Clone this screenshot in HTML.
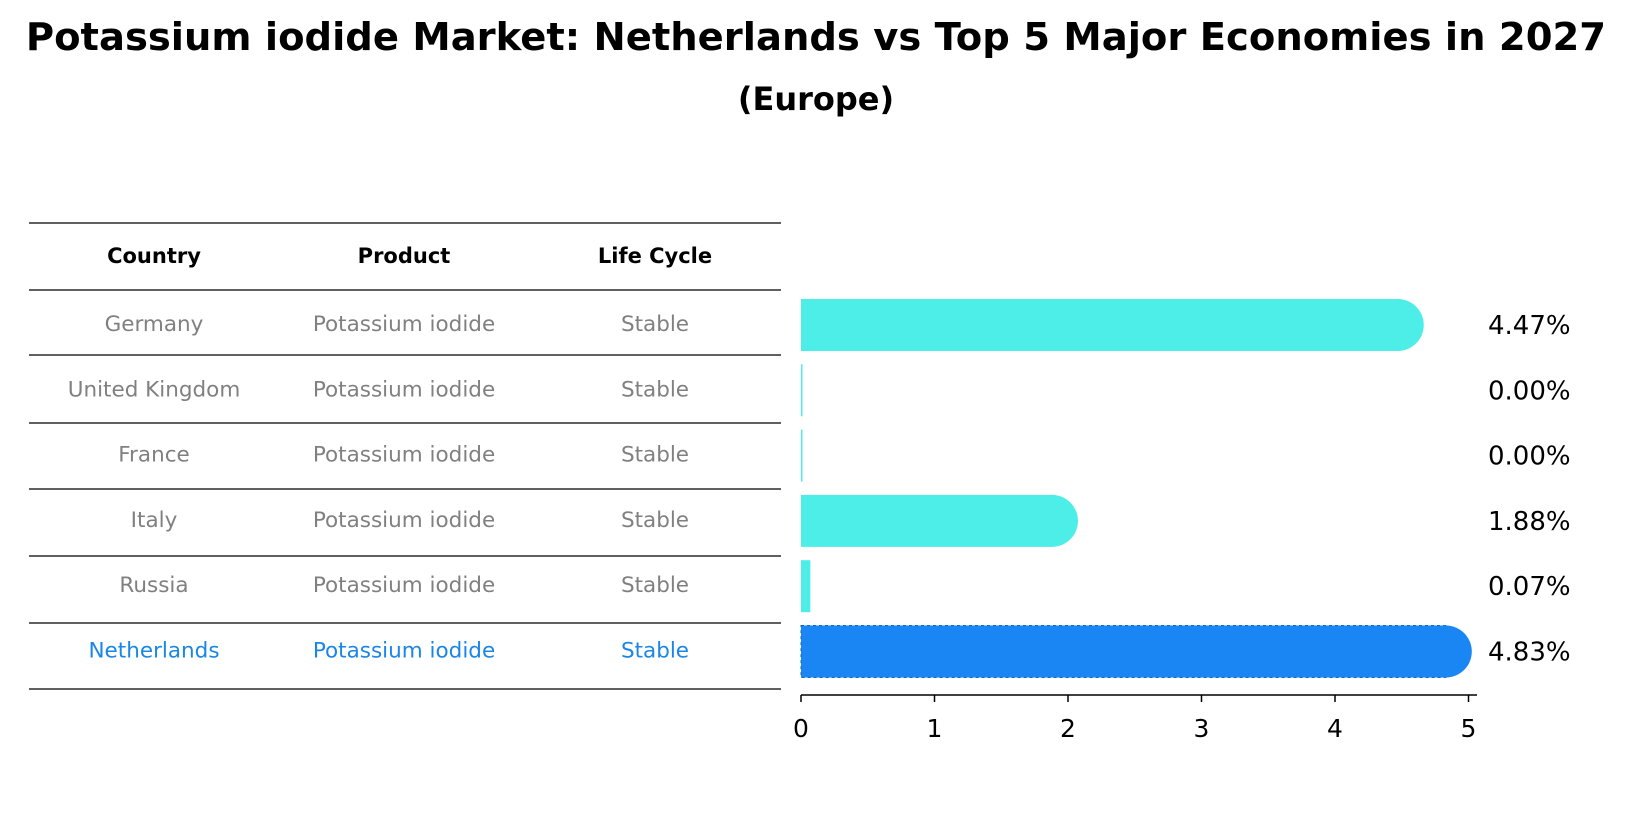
<!DOCTYPE html>
<html><head><meta charset="utf-8"><style>
body{margin:0;background:#fff;font-family:"Liberation Sans","DejaVu Sans",sans-serif}
svg text{font-family:"DejaVu Sans","Liberation Sans",sans-serif}
</style></head><body>
<svg width="1633" height="823" xmlns="http://www.w3.org/2000/svg" id="chart">
<text x="816" y="50" text-anchor="middle" font-size="38.5" font-weight="bold">Potassium iodide Market: Netherlands vs Top 5 Major Economies in 2027</text>
<text x="816" y="110" text-anchor="middle" font-size="32" font-weight="bold">(Europe)</text>
<g id="table"></g>
<g id="bars"></g>
</svg>
<script>
const countries=["Germany","United Kingdom","France","Italy","Russia","Netherlands"];
const products=["Potassium iodide","Potassium iodide","Potassium iodide","Potassium iodide","Potassium iodide","Potassium iodide"];
const lifecycle=["Stable","Stable","Stable","Stable","Stable","Stable"];
const values=[4.47,0.00,0.00,1.88,0.07,4.83];
const ticks=[0,1,2,3,4,5];
const NS="http://www.w3.org/2000/svg";
const x0=801,x5=1468.5;
const xs=v=>x0+(x5-x0)*v/5;
const rowY=i=>325+i*65.3;
const barH=52;
function mk(tag,attrs,parent){const e=document.createElementNS(NS,tag);for(const k in attrs)e.setAttribute(k,attrs[k]);parent.appendChild(e);return e;}
const tbl=document.getElementById('table');
const lines=[223,290,355,423,489,556,623,689];
lines.forEach(y=>{const l=mk('line',{x1:29,x2:781,y1:y,y2:y,stroke:'#000','stroke-width':1.2},tbl);

});
const cx=[154,404,655];
["Country","Product","Life Cycle"].forEach((h,j)=>{const t=mk('text',{x:cx[j],y:263,'text-anchor':'middle','font-size':21,'font-weight':'bold'},tbl);t.textContent=h;

});
countries.forEach((c,i)=>{const y=rowY(i)+6;const last=i===countries.length-1;const col=last?'#1a86e8':'#808080';
[c,products[i],lifecycle[i]].forEach((s,j)=>{const t=mk('text',{x:cx[j],y:y,'text-anchor':'middle','font-size':21.5,fill:col},tbl);t.textContent=s;

});});
const bars=document.getElementById('bars');
values.forEach((v,i)=>{const last=i===values.length-1;const col=last?'#1a86f4':'#4eeee8';const yc=rowY(i);const xe=xs(v);
const w=Math.max(xe-x0,1.5);
const r=mk('rect',{x:x0,y:yc-barH/2,width:w,height:barH,fill:col},bars);


if(last){r.setAttribute('stroke','#1565c0');r.setAttribute('stroke-dasharray','3,3');r.setAttribute('stroke-width','1');}
if(v>0.5){const c=mk('circle',{cx:xe,cy:yc,r:barH/2,fill:col},bars);

}
const t=mk('text',{x:1488,y:yc+9,'font-size':26},bars);t.textContent=v.toFixed(2)+'%';

});
const ax=mk('line',{x1:x0,x2:1477,y1:695,y2:695,stroke:'#000','stroke-width':1.5},bars);


ticks.forEach(tv=>{const x=xs(tv);const l=mk('line',{x1:x,x2:x,y1:695,y2:702,stroke:'#000','stroke-width':1.5},bars);


const t=mk('text',{x:x,y:737,'text-anchor':'middle','font-size':25},bars);t.textContent=tv;

});
</script>
</body></html>
